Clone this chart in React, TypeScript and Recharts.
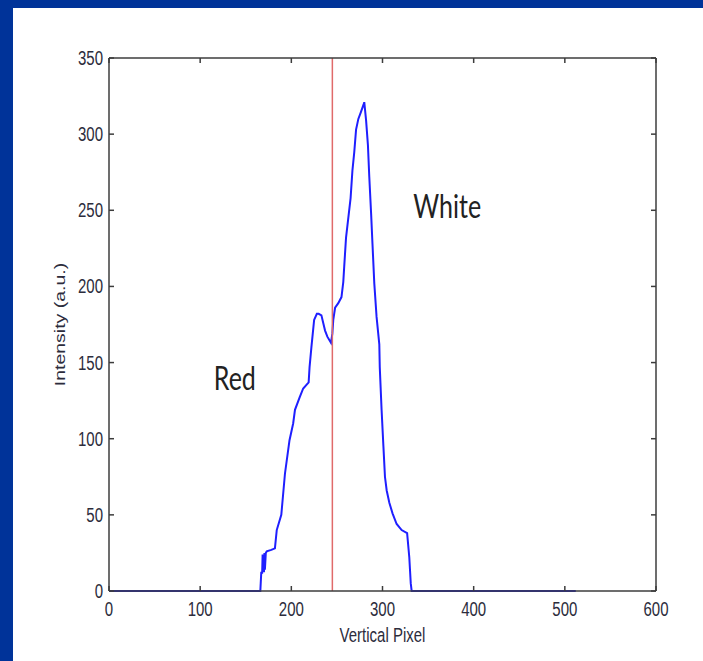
import { LineChart, Line, XAxis, YAxis, ReferenceLine, ReferenceDot } from 'recharts';

// intensity profile along the vertical pixel axis
const pixelPos = [
  0, 166, 167, 168, 168.5, 169, 170, 170.5, 171, 172, 173, 178, 182, 184, 189, 193, 198, 202, 204, 209,
  213, 219, 220, 222, 225, 228, 230, 233, 235, 237, 239.5, 243.5, 245, 246, 248, 251.5, 255, 257, 258, 260,
  262.5, 265, 267, 269, 271, 273.5, 276, 279, 280, 282, 284, 285.5, 287.5, 289, 291, 293.5, 296.5, 297, 299, 301,
  302.7, 304.6, 307.5, 311, 315.5, 321, 327, 329.4, 331, 332, 512,
];
const intensity = [
  0, 0, 12, 12, 24, 13, 13, 25, 14, 25, 26, 27, 28, 40, 50, 77, 99, 110, 119, 127,
  133, 137, 147, 160, 178, 182, 182, 181, 176, 171, 167, 163, 169, 178, 186, 189, 193, 203, 213, 232,
  245, 258, 276, 288, 303, 310, 314, 319, 321, 309, 293, 272, 248, 228, 202, 180, 162, 147, 119, 95,
  75, 66, 58, 51, 44, 40, 38, 22, 5, 0, 0,
];

const xTicks = [0, 100, 200, 300, 400, 500, 600];
const yTicks = [0, 50, 100, 150, 200, 250, 300, 350];
const markerPos = 245;

const notes = [
  { text: 'Red', x: 138, y: 132 },
  { text: 'White', x: 371, y: 245 },
];

const data = pixelPos.map((px, i) => ({ px, intensity: intensity[i] }));

const STRETCH = 1.3;
const TICK_LEN = 5;
const tickFont = "'Liberation Sans', Arial, sans-serif";
const tickColor = '#2c2c3c';
const axisColor = '#3c3c3c';
const axisLine = { stroke: axisColor, strokeWidth: 1.5 };

// matlab style: ticks point into the plot box, labels stay outside
const LeftTick = ({ x, y, payload }: any) => (
  <g>
    <line x1={x + 6} y1={y} x2={x + 6 + TICK_LEN} y2={y} stroke={axisColor} strokeWidth={1.5} />
    <text
      transform={`translate(${x},${y}) scale(1,${STRETCH})`}
      x={0}
      y={5.4}
      textAnchor="end"
      fontSize={15}
      fontFamily={tickFont}
      fill={tickColor}
    >
      {payload.value}
    </text>
  </g>
);

const BottomTick = ({ x, y, payload }: any) => (
  <g>
    <line x1={x} y1={y - 11} x2={x} y2={y - 11 - TICK_LEN} stroke={axisColor} strokeWidth={1.5} />
    <text
      transform={`translate(${x},${y}) scale(1,${STRETCH})`}
      x={0}
      y={11}
      textAnchor="middle"
      fontSize={15}
      fontFamily={tickFont}
      fill={tickColor}
    >
      {payload.value}
    </text>
  </g>
);

const TopTick = ({ x, y }: any) => (
  <line x1={x} y1={y} x2={x} y2={y + TICK_LEN} stroke={axisColor} strokeWidth={1.5} />
);

const RightTick = ({ x, y }: any) => (
  <line x1={x} y1={y} x2={x - TICK_LEN} y2={y} stroke={axisColor} strokeWidth={1.5} />
);

const NoteShape = (text: string) => ({ cx, cy }: any) => (
  <text
    transform={`translate(${cx},${cy}) scale(1,${STRETCH})`}
    x={0}
    y={0}
    textAnchor="middle"
    fontSize={25}
    fontFamily="Lato, 'Open Sans', sans-serif"
    fill="#222"
  >
    {text}
  </text>
);

export default function App() {
  return (
    <div style={{ position: 'absolute', left: 0, top: 0, width: 703, height: 661, background: '#003399' }}>
      <div style={{ position: 'absolute', left: 13, top: 8, right: 0, bottom: 0, background: '#ffffff' }} />
      <div style={{ position: 'absolute', left: 0, top: 0 }}>
        <LineChart width={703} height={661} data={data} margin={{ top: 57, right: 46, bottom: 20, left: 69 }}>
          <XAxis
            dataKey="px"
            type="number"
            domain={[0, 600]}
            ticks={xTicks}
            height={50}
            tickSize={0}
            tickMargin={11}
            tick={BottomTick}
            tickLine={false}
            interval={0}
            axisLine={axisLine}
            label={(props: any) => {
              const vb = props.viewBox || { x: 109, y: 591, width: 547 };
              return (
                <text
                  transform={`translate(${vb.x + vb.width / 2},${vb.y + 37}) scale(1,${STRETCH})`}
                  x={0}
                  y={11}
                  textAnchor="middle"
                  fontSize={15}
                  fontFamily={tickFont}
                  fill={tickColor}
                >
                  Vertical Pixel
                </text>
              );
            }}
          />
          <XAxis
            xAxisId="top"
            dataKey="px"
            orientation="top"
            type="number"
            domain={[0, 600]}
            ticks={xTicks}
            height={1}
            tickSize={0}
            tickMargin={0}
            tick={TopTick}
            tickLine={false}
            interval={0}
            axisLine={axisLine}
          />
          <YAxis
            type="number"
            domain={[0, 350]}
            ticks={yTicks}
            width={40}
            tickSize={0}
            tickMargin={6}
            tick={LeftTick}
            tickLine={false}
            interval={0}
            axisLine={axisLine}
            label={(props: any) => {
              const vb = props.viewBox || { x: 69, y: 57, height: 534 };
              return (
                <text
                  transform={`translate(${vb.x - 4},${vb.y + vb.height / 2}) rotate(-90) scale(${STRETCH},1)`}
                  x={0}
                  y={0}
                  textAnchor="middle"
                  fontSize={15}
                  fontFamily={tickFont}
                  fill={tickColor}
                >
                  Intensity (a.u.)
                </text>
              );
            }}
          />
          <YAxis
            yAxisId="right"
            orientation="right"
            type="number"
            domain={[0, 350]}
            ticks={yTicks}
            width={1}
            tickSize={0}
            tickMargin={0}
            tick={RightTick}
            tickLine={false}
            interval={0}
            axisLine={axisLine}
          />
          {/* invisible series so the top/right box axes get drawn */}
          <Line
            xAxisId="top"
            yAxisId="right"
            dataKey="intensity"
            stroke="none"
            dot={false}
            activeDot={false}
            legendType="none"
            isAnimationActive={false}
          />
          <Line
            type="linear"
            dataKey="intensity"
            stroke="#1f1fff"
            strokeWidth={2}
            dot={false}
            isAnimationActive={false}
          />
          <ReferenceLine x={markerPos} stroke="#e06a6a" strokeWidth={1.5} />
          {notes.map((n) => (
            <ReferenceDot key={n.text} x={n.x} y={n.y} r={0} shape={NoteShape(n.text)} />
          ))}
        </LineChart>
      </div>
    </div>
  );
}
